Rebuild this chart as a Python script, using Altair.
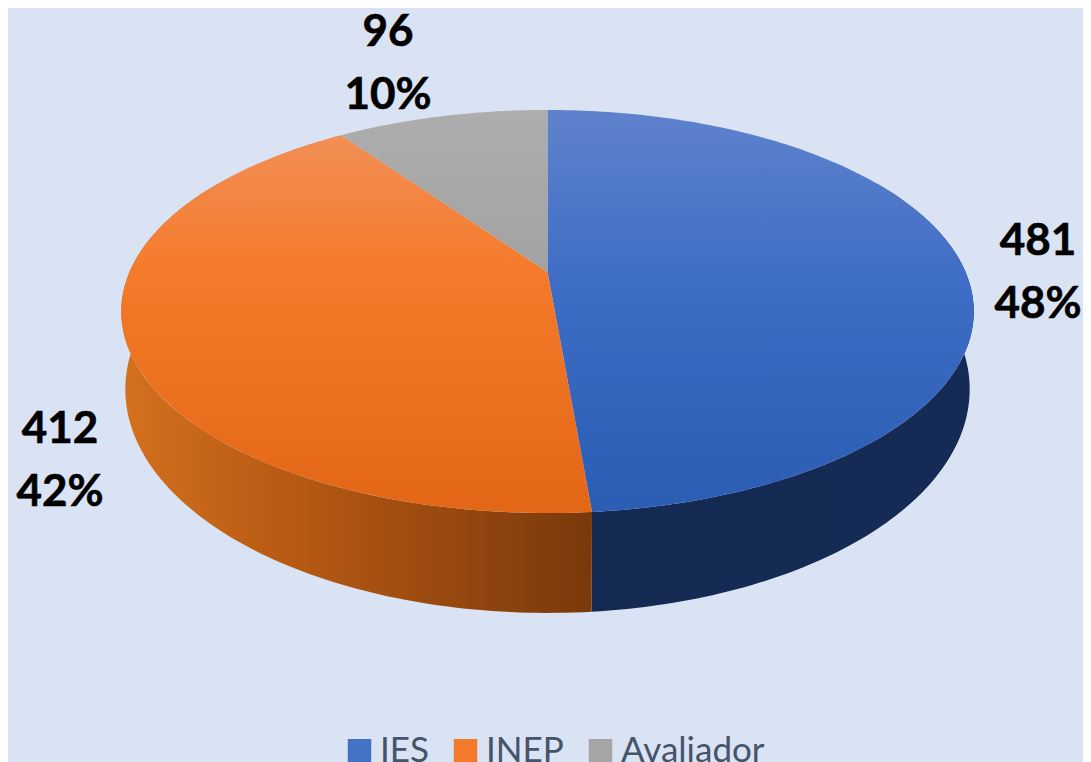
import math
import altair as alt
import pandas as pd

categories = ["IES", "INEP", "Avaliador"]
values = [481, 412, 96]
percents = ["48%", "42%", "10%"]
legend_colors = ["#4472C4", "#F27A2A", "#A5A5A5"]

W, H = 1075, 754
CX = 547.5
KP = 0.196      # perspective
TOP = dict(a=418, b=193.8, y0=272)
LOW = dict(a=414, b=215, y0=345.5)


def rim(deg, p):
    t = math.radians(deg)
    u, v = math.sin(t), math.cos(t)
    w = 1 + KP * v
    return CX + p["a"] * u / w, p["y0"] - p["b"] * v / w


def sweep(a0, a1, step=1.0):
    n = max(2, int(abs(a1 - a0) / step))
    return [a0 + (a1 - a0) * i / n for i in range(n + 1)]


total = sum(values)
edges = [0.0]
for val in values:
    edges.append(edges[-1] + val / total * 360)

top_polys = []
for i, c in enumerate(categories):
    pts = [(CX, TOP["y0"])] + [rim(d, TOP) for d in sweep(edges[i], edges[i + 1])]
    top_polys.append(pd.DataFrame({"x": [p[0] for p in pts], "y": [p[1] for p in pts], "i": range(len(pts))}))


def wall(a0, a1):
    angles = sweep(a0, a1)
    pts = [rim(d, TOP) for d in angles] + [rim(d, LOW) for d in reversed(angles)]
    return pd.DataFrame({"x": [p[0] for p in pts], "y": [p[1] for p in pts], "i": range(len(pts))})


xs = alt.Scale(domain=[8, 8 + W], range=[0, W], nice=False, zero=False)
ys = alt.Scale(domain=[8 + H, 8], range=[H, 0], nice=False, zero=False)
X = alt.X("x:Q", scale=xs, axis=None)
Y = alt.Y("y:Q", scale=ys, axis=None)


def vgrad(stops):
    return alt.Gradient(gradient="linear", x1=0, y1=0, x2=0, y2=1,
                        stops=[alt.GradientStop(offset=o, color=c) for o, c in stops])


def hgrad(stops):
    return alt.Gradient(gradient="linear", x1=0, y1=0, x2=1, y2=0,
                        stops=[alt.GradientStop(offset=o, color=c) for o, c in stops])


def poly(df, fill):
    return alt.Chart(df).mark_line(fill=fill, strokeWidth=0, interpolate="linear-closed").encode(
        x=X, y=Y, order=alt.Order("i:Q"))


top_fills = [
    vgrad([(0, "#5F82CC"), (0.45, "#3D6CC5"), (1, "#2B5DB4")]),
    vgrad([(0, "#F28E56"), (0.35, "#F47B2B"), (1, "#E36616")]),
    vgrad([(0, "#ADADAD"), (1, "#A2A2A2")]),
]

walls = [
    poly(wall(60, edges[1]), hgrad([(0, "#152A52"), (1, "#152B55")])),
    poly(wall(edges[1], 300), hgrad([(0, "#D4711E"), (0.35, "#B85A14"), (1, "#7A390B")])),
]

tops = [poly(top_polys[i], top_fills[i]) for i in range(3)]

legend_df = pd.DataFrame({"cat": categories, "x": [CX] * 3, "y": [TOP["y0"]] * 3})
legend_layer = alt.Chart(legend_df).mark_point(filled=True, shape="square", opacity=0).encode(
    x=X, y=Y,
    color=alt.Color("cat:N",
                    scale=alt.Scale(domain=categories, range=legend_colors),
                    sort=categories,
                    legend=alt.Legend(title=None, orient="none", direction="horizontal",
                                      legendX=334, legendY=725, columns=3,
                                      symbolType="square", symbolSize=550, symbolOpacity=1,
                                      symbolStrokeWidth=0,
                                      labelFont="Lato", labelFontSize=35, labelColor="#44546A",
                                      labelLimit=300, labelOffset=3, columnPadding=19,
                                      padding=0)))

label_x = [1038, 60, 388]
label_y = [255, 443, 46]
LINE = 63
label_df = pd.DataFrame({
    "text": [str(v) for v in values] + percents,
    "x": label_x + label_x,
    "y": label_y + [y + LINE for y in label_y],
})
labels = alt.Chart(label_df).mark_text(font="Lato", fontWeight="bold", fontSize=44, color="#000000",
                                       stroke="#000000", strokeWidth=0.6,
                                       align="center", baseline="alphabetic").encode(
    x=X, y=Y, text="text:N")

chart = alt.layer(legend_layer, *walls, *tops, labels).properties(
    width=W, height=H, background="#DAE3F3", padding=0,
    autosize=alt.AutoSizeParams(type="none"),
).configure_view(stroke=None)

chart.save("out.html", embed_options={"renderer": "svg", "actions": False})
